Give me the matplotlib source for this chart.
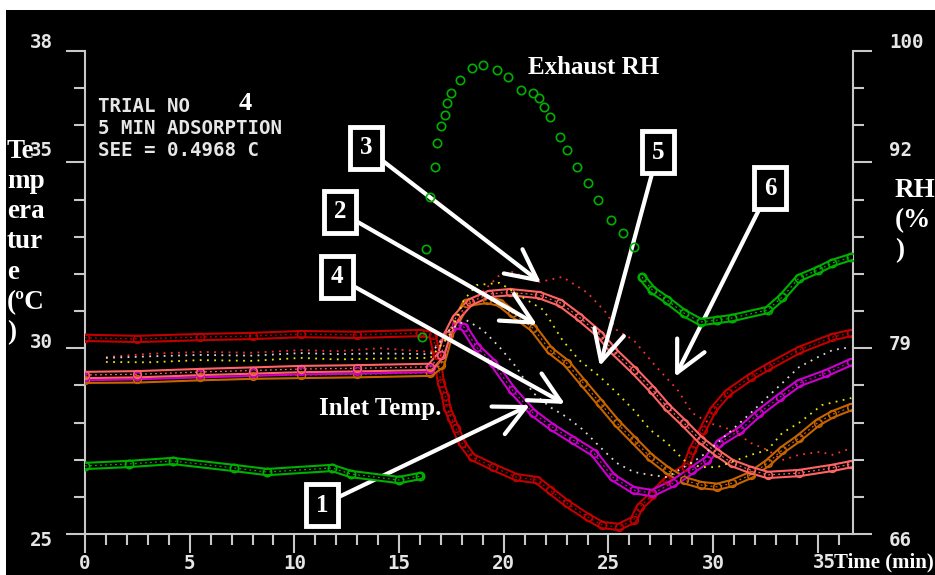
import matplotlib
matplotlib.use('Agg')
import matplotlib.pyplot as plt
import matplotlib.patheffects as pe
from matplotlib.patches import Rectangle

plt.rcParams['font.family'] = ['DejaVu Sans Mono']
SERIF = ['Liberation Serif', 'DejaVu Serif']

# --- traces: time (min), temperature (C) ---
dkred_t = [0, 2.5, 5.5, 8, 10.3, 13, 16.0, 16.6, 16.8, 17.0, 17.2, 17.3, 17.5, 17.7, 18.0, 18.5,
           19.5, 20.6, 21.6, 22.2, 23.0, 24.0, 24.7, 25.5, 26.2, 26.5, 27.1, 27.8, 28.7, 29.0,
           29.5, 30.0, 30.7, 31.8, 32.6, 34.1, 35.7, 36.6]
dkred_T = [30.28, 30.25, 30.30, 30.33, 30.38, 30.36, 30.41, 30.36, 29.82, 29.07, 28.71, 28.39, 28.12,
           27.85, 27.45, 27.07, 26.80, 26.53, 26.45, 26.18, 25.83, 25.46, 25.24, 25.19, 25.38, 25.73,
           26.05, 26.45, 26.80, 27.26, 27.80, 28.34, 28.80, 29.23, 29.49, 29.95, 30.30, 30.41]

salmon_t = [0, 2.5, 5.5, 8, 10.3, 13, 16.5, 17.0, 17.3, 17.7, 18.4, 19.3, 20.3, 21.7, 22.7, 23.6,
            24.6, 25.2, 26.2, 27.1, 27.8, 28.6, 29.4, 30.2, 30.9, 31.8, 32.6, 34.1, 35.7, 36.6]
salmon_T = [29.28, 29.30, 29.36, 29.40, 29.44, 29.46, 29.50, 29.82, 30.36, 30.81, 31.24, 31.46, 31.51,
            31.43, 31.22, 30.84, 30.36, 29.95, 29.41, 28.88, 28.42, 27.99, 27.53, 27.18, 26.91,
            26.72, 26.59, 26.64, 26.78, 26.88]

orange_t = [0, 2.5, 5.5, 8, 10.3, 13, 16.5, 17.0, 17.4, 18.2, 19.2, 19.8, 20.4, 21.4, 22.2, 23.0,
            23.8, 24.6, 25.4, 26.2, 27.0, 27.8, 28.6, 29.4, 30.2, 30.9, 31.8, 32.6, 33.3, 34.1,
            35.0, 35.7, 36.6]
orange_T = [29.15, 29.16, 29.22, 29.26, 29.28, 29.30, 29.34, 29.55, 30.36, 31.22, 31.30, 31.22, 30.95,
            30.54, 29.95, 29.60, 29.06, 28.53, 27.99, 27.53, 27.07, 26.72, 26.45, 26.32, 26.27,
            26.37, 26.59, 26.91, 27.26, 27.58, 28.00, 28.22, 28.42]

magenta_t = [0, 2.5, 5.5, 8, 10.3, 13, 16.5, 17.0, 17.3, 17.7, 18.1, 18.7, 19.5, 20.4, 21.4, 22.3,
             23.3, 24.3, 25.2, 26.2, 27.1, 28.1, 29.0, 29.7, 30.3, 31.3, 32.2, 33.2, 34.1, 35.4, 36.6]
magenta_T = [29.22, 29.25, 29.30, 29.34, 29.38, 29.40, 29.44, 29.82, 30.36, 30.63, 30.57, 30.03, 29.60,
             28.88, 28.26, 27.88, 27.53, 27.18, 26.53, 26.18, 26.10, 26.37, 26.72, 26.99, 27.45,
             27.80, 28.26, 28.69, 29.06, 29.33, 29.63]

# dotted traces (start about 1 min in)
rdot_t = [1.0, 3, 5.5, 8, 10.3, 12, 14.1, 16.5, 17.4, 18.6, 19.8, 20.4, 21.7, 22.8, 24.0, 24.9, 25.4,
          26.2, 27.3, 28.3, 29.0, 29.8, 30.9, 31.8, 32.6, 33.3, 34.1, 35.1, 35.7, 36.6]
rdot_T = [29.76, 29.85, 29.90, 29.88, 29.95, 29.92, 30.00, 29.90, 30.49, 31.30, 31.97, 32.05, 31.78,
          31.92, 31.49, 30.95, 30.49, 30.22, 29.49, 28.88, 28.26, 27.99, 27.80, 27.45, 27.26, 26.99,
          27.13, 27.21, 27.13, 27.31]

ydot_t = [1.0, 3, 5.5, 8, 10.3, 12, 14, 16.5, 17.4, 18.1, 18.7, 19.8, 21.1, 21.9, 22.8, 23.6, 24.6,
          25.4, 26.2, 27.0, 27.8, 28.6, 29.4, 30.2, 30.9, 31.8, 32.6, 33.3, 34.1, 35.2, 36.6]
ydot_T = [29.63, 29.62, 29.68, 29.66, 29.74, 29.70, 29.72, 29.74, 30.36, 31.30, 31.70, 31.76, 31.30,
          31.03, 30.22, 29.68, 29.23, 28.80, 28.34, 27.80, 27.45, 26.99, 26.80, 26.80, 26.94, 27.13,
          27.26, 27.72, 27.99, 28.47, 28.66]

wdot_t = [1.0, 3, 5.5, 8, 10.3, 12, 14, 16.5, 17.4, 18.2, 19.0, 19.8, 20.6, 21.4, 22.2, 23.0, 23.8,
          24.6, 25.4, 26.2, 27.0, 27.8, 28.6, 29.4, 30.2, 30.9, 31.8, 32.6, 33.3, 34.1, 35.0, 35.7, 36.6]
wdot_T = [29.74, 29.78, 29.82, 29.80, 29.87, 29.84, 29.86, 29.84, 30.49, 30.76, 30.49, 30.03, 29.49,
          28.80, 28.42, 28.15, 27.80, 27.34, 26.91, 26.67, 26.59, 26.53, 26.80, 27.07, 27.45, 27.80,
          28.26, 28.69, 29.06, 29.49, 29.76, 29.95, 30.03]

# exhaust RH (%), right axis
rh_t = [0, 2.1, 4.2, 7.1, 8.7, 11.8, 12.7, 15.0, 16.0, 16.1, 16.3, 16.5, 16.7, 16.8, 17.0, 17.2,
        17.3, 17.5, 17.9, 18.5, 19.0, 19.7, 20.2, 20.8, 21.4, 21.7, 21.9, 22.2, 22.7, 23.0, 23.5,
        24.0, 24.5, 25.1, 25.7, 26.2, 26.6, 27.1, 27.8, 28.6, 29.4, 30.2, 30.9, 32.6, 33.3, 34.1,
        35.0, 35.7, 36.6]
rh_v = [70.79, 70.93, 71.14, 70.65, 70.36, 70.65, 70.22, 69.80, 70.08, 79.87, 86.06, 89.72, 91.83,
        93.52, 94.72, 95.49, 96.34, 97.04, 97.96, 98.80, 99.01, 98.66, 98.17, 97.25, 97.04, 96.69,
        96.06, 95.35, 93.95, 93.03, 91.83, 90.71, 89.51, 88.10, 87.19, 86.20, 84.09, 83.18, 82.47,
        81.56, 80.92, 81.06, 81.20, 81.77, 82.68, 84.02, 84.58, 85.08, 85.50]

AX_GREY = '#C8C8C8'
TXT = '#E6E6E6'
MONO_SIZE = 13.8


def px(x, y):
    return x / 935, 1 - y / 575


def tube(ax, t, v, color, with_marks=True):
    # overlapping open circles on screen look like a hollow band with a broken core
    ax.plot(t, v, color='black', lw=3.0, solid_capstyle='round', zorder=3,
            path_effects=[pe.Stroke(linewidth=6.0, foreground=color), pe.Normal()])
    ax.plot(t, v, color=color, lw=0.9, ls=(0, (1.5, 2.5)), zorder=3)
    if with_marks:
        ax.plot(t, v, ls='none', marker='o', ms=5.6, mfc='none', mec=color, mew=1.1, zorder=4)


fig = plt.figure(figsize=(9.35, 5.75), dpi=100, facecolor='white')
fig.add_artist(Rectangle((6 / 935, 0), 1, 1 - 10 / 575, transform=fig.transFigure,
                         facecolor='black', edgecolor='none', zorder=0))

ax = fig.add_axes([85 / 935, 41 / 575, 768 / 935, 483 / 575])
ax.set_facecolor('black')
ax2 = ax.twinx()

tube(ax, dkred_t, dkred_T, '#C00000')
tube(ax, orange_t, orange_T, '#C86400')
tube(ax, magenta_t, magenta_T, '#CC00CC')
tube(ax, salmon_t, salmon_T, '#FF6464')
for t, v, c in [(rdot_t, rdot_T, '#FF3030'), (ydot_t, ydot_T, '#E8E800'), (wdot_t, wdot_T, '#D8D8D8')]:
    ax.plot(t, v, color=c, lw=1.3, ls=(0, (1, 3)), zorder=5)

# exhaust RH: dense before the jump and after 26 min, spread circles in between
GREEN = '#00B000'
tube(ax2, rh_t[:9], rh_v[:9], GREEN, with_marks=False)
tube(ax2, rh_t[36:], rh_v[36:], GREEN, with_marks=False)
ax2.plot(rh_t, rh_v, ls='none', marker='o', ms=6, mfc='none', mec=GREEN, mew=1.2, zorder=4)

ax.set_xlim(0, 36.68)
ax.set_ylim(25, 38)
ax2.set_ylim(66, 100)

for a in (ax, ax2):
    a.spines['top'].set_visible(False)
    for s in a.spines.values():
        s.set_color(AX_GREY)
        s.set_linewidth(1.5)
ax2.spines['left'].set_visible(False)
ax2.spines['bottom'].set_visible(False)
ax.spines['right'].set_visible(False)

ax.set_xticks(range(0, 36, 5))
ax.set_xticks(range(0, 37), minor=True)
ax.set_yticks([25, 30, 35, 38])
ax.set_yticks(range(25, 39), minor=True)
ax.set_yticklabels([])
ax2.set_yticks([66, 66 + 5 * 34 / 13, 66 + 10 * 34 / 13, 100])
ax2.set_yticks([66 + k * 34 / 13 for k in range(14)], minor=True)
ax2.set_yticklabels([])

for a in (ax, ax2):
    a.tick_params(which='major', direction='out', length=13.5, width=1.5, color=AX_GREY,
                  labelcolor=TXT, labelsize=MONO_SIZE)
    a.tick_params(which='minor', direction='out', length=8, width=1.5, color=AX_GREY)
ax.tick_params(axis='x', pad=1)
ax.set_xticklabels(['0', '5', '10', '15', '20', '25', '30', ''])
for lbl in ax.get_xticklabels():
    lbl.set_fontweight('bold')

# axis numbers drawn as in the capture
mono = dict(color=TXT, fontsize=MONO_SIZE, weight='bold', va='center')
for lab, y in [('38', 42), ('35', 150), ('30', 343), ('25', 540)]:
    fig.text(*px(53, y), lab, ha='right', **mono)
for lab, y in [('100', 42), ('92', 150), ('79', 345), ('66', 540)]:
    fig.text(*px(889, y), lab, ha='left', **mono)
fig.text(*px(836, 562), '35', ha='right', **mono)

# axis titles, wrapped a few letters per line as on the screen
serif = dict(family=SERIF, weight='bold', color='white')
for part, base in zip(['Te', 'mp', 'era', 'tur', 'e', '(ºC', ')'], [158, 188, 218, 248, 279, 309, 339]):
    fig.text(*px(7, base), part, fontsize=19.5, ha='left', va='baseline', **serif)
for part, base in zip(['RH', '(%', ')'], [197, 227, 257]):
    fig.text(*px(895, base), part, fontsize=19.5, ha='left', va='baseline', **serif)
fig.text(*px(834, 562), 'Time (min)', fontsize=15, ha='left', va='center', **serif)

fig.text(*px(98, 106), 'TRIAL NO', **mono)
fig.text(*px(98, 128), '5 MIN ADSORPTION', **mono)
fig.text(*px(98, 150), 'SEE = 0.4968 C', **mono)
fig.text(*px(245, 110), '4', fontsize=19, ha='center', va='baseline', **serif)
fig.text(*px(594, 68), 'Exhaust RH', fontsize=18, ha='center', va='center', **serif)
fig.text(*px(380, 408), 'Inlet Temp.', fontsize=18, ha='center', va='center', **serif)

# numbered call-outs (box centre, arrow tip) in data units
callouts = [('3', (13.42, 35.39), (21.78, 31.76)),
            ('2', (12.18, 33.67), (21.59, 30.63)),
            ('4', (12.03, 31.92), (22.92, 28.50)),
            ('5', (27.36, 35.28), (24.59, 29.52)),
            ('6', (32.71, 34.31), (28.18, 29.23)),
            ('1', (11.32, 25.78), (21.25, 28.47))]
for num, box, tip in callouts:
    ax.annotate(num, xy=tip, xytext=box, ha='center', va='center', fontsize=18, zorder=10,
                bbox=dict(boxstyle='square,pad=0.38', fc='black', ec='white', lw=3.5),
                arrowprops=dict(arrowstyle='->,head_length=1.0,head_width=0.5', color='white',
                                lw=3, shrinkA=0, shrinkB=0, mutation_scale=22),
                **serif)

fig.savefig('out.png', dpi=100, facecolor=fig.get_facecolor())
